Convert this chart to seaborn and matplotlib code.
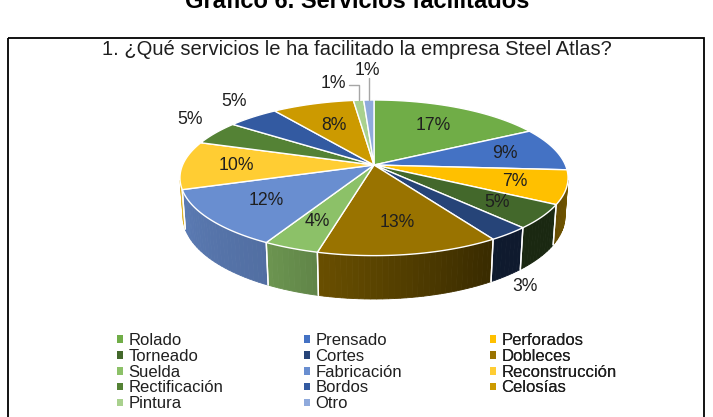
import numpy as np
import seaborn as sns
import matplotlib.pyplot as plt
from matplotlib.patches import Polygon, Rectangle, Patch
from matplotlib.colors import to_rgb

servicios = ['Rolado', 'Prensado', 'Perforados', 'Torneado', 'Cortes', 'Dobleces',
             'Suelda', 'Fabricación', 'Reconstrucción', 'Rectificación', 'Bordos',
             'Celosías', 'Pintura', 'Otro']
porcentajes = [17, 9, 7, 5, 3, 13, 4, 12, 10, 5, 5, 8, 1, 1]
colores = ['#70AD47', '#4472C4', '#FFC000', '#43682B', '#264478', '#997300',
           '#8CC168', '#698ED0', '#FFCD33', '#548235', '#335AA1', '#CC9A00',
           '#A9D18E', '#8FAADC']
titulo = 'Gráfico 6. Servicios facilitados'
pregunta = '1. ¿Qué servicios le ha facilitado la empresa Steel Atlas?'

sns.set_style('white')
plt.rcParams['font.family'] = ['Liberation Sans', 'DejaVu Sans']

# geometria de la vista 3D (en pixeles)
CX, CY, F, D, H = 374, 165, 1068, 5.58, 0.218
ELEV = np.radians(23.3)
se, ce = np.sin(ELEV), np.cos(ELEV)


def proyectar(r, theta, z=0.0):
    t = np.radians(theta)
    x = r * np.sin(t)
    y = r * np.cos(t)
    yv = y * se + z * ce
    dz = y * ce - z * se
    k = F / (D + dz)
    return CX + x * k, CY - yv * k


def sombra(theta):
    return np.interp(theta, [100, 120, 150, 190, 210, 260],
                     [0.46, 0.39, 0.38, 0.66, 0.78, 0.88])


fig = plt.figure(figsize=(7.13, 4.17), dpi=100)
ax = fig.add_axes([0, 0, 1, 1])
ax.set_xlim(0, 713)
ax.set_ylim(417, 0)
ax.axis('off')

total = sum(porcentajes)
bordes = np.concatenate([[0], np.cumsum(porcentajes)]) / total * 360
tv1 = np.degrees(np.arccos(-1 / (D * ce)))
tv2 = 360 - tv1

# paredes laterales
for i, c in enumerate(colores):
    lo, hi = max(bordes[i], tv1), min(bordes[i + 1], tv2)
    if lo >= hi:
        continue
    n = max(2, int((hi - lo) / 1.5) + 1)
    ts = np.linspace(lo, hi, n)
    for t0, t1 in zip(ts[:-1], ts[1:]):
        col = np.array(to_rgb(c)) * sombra((t0 + t1) / 2)
        pts = [proyectar(1, t0), proyectar(1, t1), proyectar(1, t1, -H), proyectar(1, t0, -H)]
        ax.add_patch(Polygon(pts, closed=True, facecolor=col, edgecolor=col, lw=0.6, zorder=1))
    for tb in (bordes[i], bordes[i + 1]):
        if tv1 < tb < tv2:
            xa, ya = proyectar(1, tb)
            xb, yb = proyectar(1, tb, -H)
            ax.plot([xa, xb], [ya, yb], color='white', lw=1, zorder=1.5)

# caras superiores
for i, c in enumerate(colores):
    n = max(3, int(bordes[i + 1] - bordes[i]) + 2)
    ts = np.linspace(bordes[i], bordes[i + 1], n)
    pts = [(CX, CY)] + [proyectar(1, t) for t in ts]
    ax.add_patch(Polygon(pts, closed=True, facecolor=c, edgecolor='white', lw=1, zorder=2))

# etiquetas de porcentaje
etiq_r = [0.66, 0.72, 0.74, 0.75, 1.12, 0.68, 0.72, 0.68, 0.72, 1.17, 1.17, 0.62, 1.0, 1.0]
etiq_z = [0, 0, 0, 0, -H, 0, 0, 0, 0, 0.05, 0.05, 0, 0, 0]
txt_col = '#1f1f1f'
for i, p in enumerate(porcentajes):
    mid = (bordes[i] + bordes[i + 1]) / 2
    x, y = proyectar(etiq_r[i], mid, etiq_z[i])
    if servicios[i] == 'Pintura':
        tx, ty = x - 25, y - 17
        ax.plot([x, x, tx + 15], [y, ty + 2, ty + 2], color='#a6a6a6', lw=1, zorder=3)
    elif servicios[i] == 'Otro':
        tx, ty = x - 1, y - 30
        ax.plot([x, x], [y, ty + 8], color='#a6a6a6', lw=1, zorder=3)
    else:
        tx, ty = x, y
    ax.text(tx, ty, f'{p}%', ha='center', va='center', fontsize=12.7, color=txt_col, zorder=5)

# titulos y marco
ax.text(357, 8, titulo, ha='center', va='baseline', fontsize=17, fontweight='bold', color='black')
ax.text(357, 49, pregunta, ha='center', va='center', fontsize=14.5, color=txt_col)
ax.add_patch(Rectangle((8, 38), 696, 400, fill=False, edgecolor='black', lw=1.3, zorder=6))

# leyenda en tres columnas
handles = [Patch(facecolor=c, edgecolor='none') for c in colores]
for k, x0 in enumerate([117, 304, 490]):
    idx = list(range(k, len(servicios), 3))
    leg = ax.legend([handles[j] for j in idx], [servicios[j] for j in idx],
                    loc='upper left', bbox_to_anchor=(x0 / 713, 1 - 333 / 417),
                    bbox_transform=fig.transFigure, frameon=False, fontsize=12,
                    borderpad=0, borderaxespad=0, labelspacing=0.05,
                    handlelength=0.33, handleheight=0.33, handletextpad=0.35,
                    labelcolor=txt_col)
    ax.add_artist(leg)

fig.savefig('out.png', dpi=100)
